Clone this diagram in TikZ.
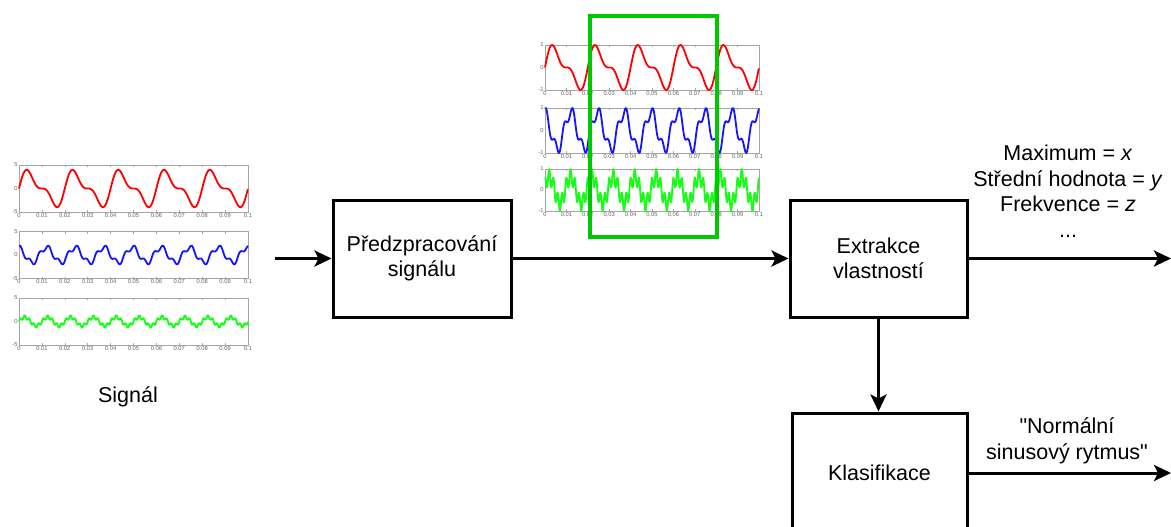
\documentclass[tikz,border=0pt]{standalone}
\usepackage{fontspec}
\setmainfont{Liberation Sans}
\usetikzlibrary{arrows.meta}
\definecolor{sigred}{RGB}{255,0,0}
\definecolor{sigblue}{RGB}{20,20,255}
\definecolor{siggreen}{RGB}{20,255,20}
\definecolor{selgreen}{RGB}{0,200,0}
\definecolor{axgray}{RGB}{165,165,165}
\definecolor{labgray}{RGB}{100,100,100}
\newcommand\bigfont{\fontsize{21.5pt}{24.5pt}\selectfont}
\newcommand\lblfont{\fontsize{21.5pt}{25.5pt}\selectfont}
\tikzset{
  box/.style={draw=black, line width=3pt, fill=white, inner sep=0pt, align=center, font=\bigfont},
  lbl/.style={inner sep=0pt, align=center, font=\lblfont},
  axisline/.style={draw=axgray, line width=0.6pt},
  ticklab/.style={font=\fontsize{5.8pt}{6pt}\selectfont, text=labgray, inner sep=0.6pt},
  sig/.style={line width=1.8pt, line join=round},
  arr/.style={line width=3pt, -{Stealth[length=17pt,width=16pt,inset=4pt]}},
  selbox/.style={draw=selgreen, line width=3.5pt}
}
\newcommand\axbox[6]{%
  \draw[axisline] (#1,#2) rectangle ++(#3,#4);
  \foreach \k/\lab in {0/0,1/0.01,2/0.02,3/0.03,4/0.04,5/0.05,6/0.06,7/0.07,8/0.08,9/0.09,10/0.1}{
    \draw[axisline] ({#1+#3*\k/10},{#2}) -- ++(0,2);
    \draw[axisline] ({#1+#3*\k/10},{#2+#4}) -- ++(0,-2);
    \node[ticklab,anchor=north] at ({#1+#3*\k/10},{#2+#4+0.5}) {\lab};
  }
  \node[ticklab,anchor=east] at ({#1-0.5},{#2}) {#5};
  \node[ticklab,anchor=east] at ({#1-0.5},{#2+#4/2}) {0};
  \node[ticklab,anchor=east] at ({#1-0.5},{#2+#4}) {#6};
}
\begin{document}
\begin{tikzpicture}[x=1pt,y=-1pt]
\useasboundingbox (0,0) rectangle (1171,527);
\fill[white] (0,0) rectangle (1171,527);

% left signal plots
\axbox{19}{165}{229}{47}{5}{-5}
\axbox{19}{231.5}{229}{47}{5}{-5}
\axbox{19}{298}{229}{47}{5}{-5}
\draw[sig,sigred] plot[domain=0:5,samples=300] ({19+229*\x/5},{188.5-18.7*(sin(360*\x)+0.5*sin(720*\x))/1.299});
\draw[sig,sigblue] plot[domain=0:8,samples=400] ({19+229*\x/8},{255-9.4*(cos(360*\x+15)+0.35*sin(3*(360*\x+15)))/1.25});
\draw[sig,siggreen] plot[domain=0:10,samples=500] ({19+229*\x/10},{321.5-6.1*(sin(360*\x)+0.4*sin(360*frac(5*\x)))/1.4});

% middle signal plots
\axbox{545}{45}{214}{45}{1}{-1}
\axbox{545}{108}{214}{45}{1}{-1}
\axbox{545}{169}{214}{42}{1}{-1}
\draw[sig,sigred] plot[domain=0:5,samples=300] ({545+214*\x/5},{67.5-22.5*(sin(360*\x)+0.5*sin(720*\x))/1.299});
\draw[sig,sigblue] plot[domain=0:8,samples=400] ({545+214*\x/8},{130.5-22.5*(cos(360*\x+15)+0.35*sin(3*(360*\x+15)))/1.25});
\draw[sig,siggreen] plot[domain=0:10,samples=700] ({545+214*\x/10},{190-21*(sin(360*\x+20)+0.6*sin(360*frac(5*\x)+100))/1.6});
\draw[selbox] (590,16) rectangle (717,237);

% blocks
\node[box, minimum width=178pt, minimum height=117pt] (pre) at (422,258.5) {Předzpracování\\signálu};
\node[box, minimum width=177pt, minimum height=117pt] (ext) at (878.5,258.5) {Extrakce\\vlastností};
\node[box, minimum width=175pt, minimum height=120pt] (cls) at (879.5,473) {Klasifikace};

% labels
\node[lbl, anchor=base] (sig) at (128,402) {Signál};
\node[lbl] (feat) at (1068,191.2) {Maximum = \textit{x}\\Střední hodnota = \textit{y}\\Frekvence = \textit{z}\\...};
\node[lbl] (res) at (1067,441) {\textquotedbl Normální\\sinusový rytmus\textquotedbl};

% connectors
\coordinate (in) at (275,258.5);
\coordinate (out1) at (1171,258.5);
\coordinate (out2) at (1171,473);
\draw[arr] (in) -- (pre.west);
\draw[arr] (pre.east) -- (ext.west);
\draw[arr] (ext.east) -- (out1);
\draw[arr] (ext.south) -- (ext.south |- cls.north);
\draw[arr] (cls.east) -- (out2);
\end{tikzpicture}
\end{document}
